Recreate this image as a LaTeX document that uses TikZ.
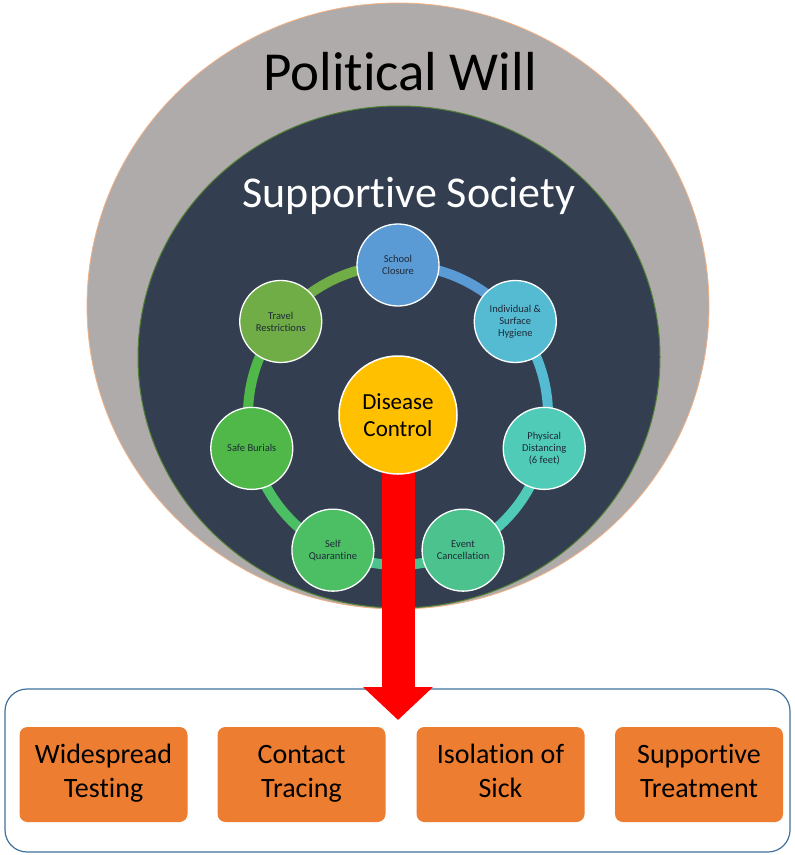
\documentclass[tikz,border=0pt]{standalone}
\usepackage{fontspec}
\setmainfont{Carlito}[RawFeature={-liga;-clig;-dlig}]
\usetikzlibrary{arrows.meta}
\definecolor{willgray}{HTML}{AFABAB}
\definecolor{willedge}{HTML}{F4B183}
\definecolor{society}{HTML}{333F50}
\definecolor{societyedge}{HTML}{548235}
\definecolor{schoolblue}{HTML}{5B9BD5}
\definecolor{hygcyan}{HTML}{55BBD2}
\definecolor{distteal}{HTML}{4FCBB8}
\definecolor{eventmint}{HTML}{4CC38E}
\definecolor{selfgreen}{HTML}{4CBF65}
\definecolor{burialgreen}{HTML}{50B849}
\definecolor{travelgreen}{HTML}{70AD47}
\definecolor{controlgold}{HTML}{FFC000}
\definecolor{actionorange}{HTML}{ED7D31}
\definecolor{boxblue}{HTML}{41719C}
\definecolor{labeldark}{HTML}{1E2A38}
\pgfdeclarelayer{back}
\pgfdeclarelayer{ring}
\pgfsetlayers{back,ring,main}
\tikzset{
  measure/.style  = {circle,draw=white,line width=1.3pt,minimum size=82pt,inner sep=0pt,
                     align=center,text=labeldark,font=\fontsize{10.5}{12}\selectfont},
  hub/.style      = {circle,fill=controlgold,draw=white,line width=1.5pt,minimum size=118pt,
                     inner sep=0pt,align=center,font=\fontsize{23}{27}\selectfont},
  ringarc/.style  = {line width=10pt,looseness=0.9},
  action/.style   = {fill=actionorange,rounded corners=8pt,minimum width=168pt,
                     minimum height=95pt,align=center,text height=54pt,text depth=8pt,
                     font=\fontsize{28}{34}\selectfont},
  groupbox/.style = {draw=boxblue,line width=1.2pt,fill=white,rounded corners=22pt,
                     minimum width=785pt,minimum height=163pt},
  flow/.style     = {red,line width=33pt,-{Triangle[length=33pt,width=68pt]}}
}

\begin{document}
\begin{tikzpicture}[x=1pt,y=1pt]
  \useasboundingbox (0,0) rectangle (795,-855);
  \begin{pgfonlayer}{back}
    \filldraw[fill=willgray,draw=willedge,line width=0.8pt] (398,-306) ellipse [x radius=311,y radius=303];
    \filldraw[fill=society,draw=societyedge,line width=1pt] (399,-357) ellipse [x radius=261,y radius=251];
    \node[groupbox] (actions) at (397.5,-770.5) {};
  \end{pgfonlayer}
  \node[anchor=base,font=\fontsize{55}{60}\selectfont] (will) at (400,-90) {Political Will};
  \node[anchor=base,white,font=\fontsize{44}{50}\selectfont] (supp) at (409,-207) {Supportive Society};
  % the seven measures on the ring
  \begin{scope}[shift={(398,-415)}]
    \foreach \ang/\name/\col/\txt in {
        90/school/schoolblue/{School\\Closure},
        38.57/hygiene/hygcyan/{Individual \&\\Surface\\Hygiene},
        -12.86/distancing/distteal/{Physical\\Distancing\\(6 feet)},
        -64.29/event/eventmint/{Event\\Cancellation},
        -115.71/selfq/selfgreen/{Self\\Quarantine},
        -167.14/burial/burialgreen/{Safe Burials},
        141.43/travel/travelgreen/{Travel\\Restrictions}}
      \node[measure,fill=\col] (\name) at (\ang:150) {\txt};
  \end{scope}
  \node[hub] (control) at (398,-415) {Disease\\Control};
  \coordinate (tip) at (398,-720);
  \begin{pgfonlayer}{ring}
    \foreach \a/\b/\col in {school/hygiene/schoolblue, hygiene/distancing/hygcyan,
        distancing/event/distteal, event/selfq/eventmint, selfq/burial/selfgreen,
        burial/travel/burialgreen, travel/school/travelgreen}
      \draw[ringarc,\col] (\a.center) to[bend left=25.7] (\b.center);
    \draw[flow] (control.center) -- (tip);
  \end{pgfonlayer}
  % control actions
  \node[action] (testing)   at (103.5,-774.5) {Widespread\\Testing};
  \node[action] (tracing)   at (301.5,-774.5) {Contact\\Tracing};
  \node[action] (isolation) at (500.5,-774.5) {Isolation of\\Sick};
  \node[action] (treatment) at (699,-774.5)   {Supportive\\Treatment};
\end{tikzpicture}
\end{document}
